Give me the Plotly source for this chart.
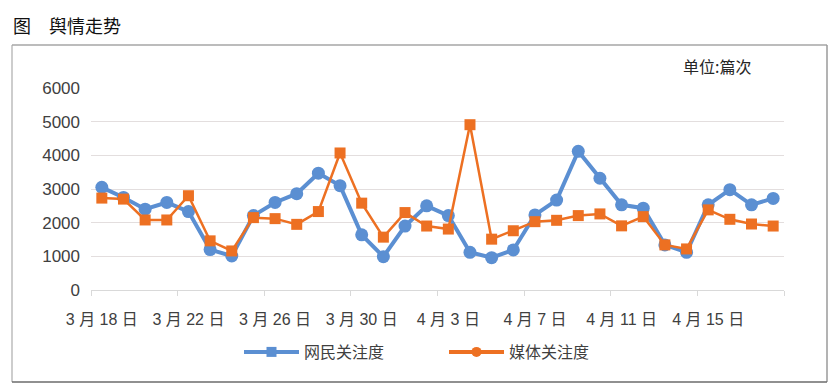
import plotly.graph_objects as go

dates = ["3月18日", "3月19日", "3月20日", "3月21日", "3月22日", "3月23日", "3月24日", "3月25日",
         "3月26日", "3月27日", "3月28日", "3月29日", "3月30日", "3月31日", "4月1日", "4月2日",
         "4月3日", "4月4日", "4月5日", "4月6日", "4月7日", "4月8日", "4月9日", "4月10日",
         "4月11日", "4月12日", "4月13日", "4月14日", "4月15日", "4月16日", "4月17日", "4月18日"]

netizen = [3050, 2750, 2400, 2600, 2330, 1200, 1010, 2210, 2600, 2860, 3470, 3100, 1640, 990, 1900, 2500,
           2210, 1120, 960, 1190, 2230, 2670, 4120, 3320, 2530, 2430, 1340, 1120, 2530, 2980, 2530, 2720]
media = [2730, 2700, 2080, 2080, 2800, 1460, 1160, 2150, 2120, 1950, 2330, 4070, 2580, 1570, 2300, 1900,
         1810, 4910, 1510, 1760, 2030, 2070, 2210, 2260, 1905, 2180, 1340, 1220, 2380, 2100, 1960, 1900]

tick_dates = dates[::4]
tick_text = [d.replace("月", " 月 ").replace("日", " 日") for d in tick_dates]
boundaries = [i - 0.5 for i in range(0, 33, 4)]

BLUE = "#5B8FD2"
ORANGE = "#ED7022"
FONT = "Liberation Sans, Noto Sans CJK SC, sans-serif"
CJK = "Noto Sans CJK SC, sans-serif"

fig = go.Figure()
fig.add_trace(go.Scatter(x=dates, y=netizen, mode="lines+markers", name="网民关注度",
                         line=dict(color=BLUE, width=4), marker=dict(symbol="circle", size=13, color=BLUE),
                         showlegend=False))
fig.add_trace(go.Scatter(x=dates, y=media, mode="lines+markers", name="媒体关注度",
                         line=dict(color=ORANGE, width=2.5), marker=dict(symbol="square", size=11, color=ORANGE),
                         showlegend=False))
# legend entries (as in the reference, markers swapped)
fig.add_trace(go.Scatter(x=[None], y=[None], mode="lines+markers", name="网民关注度",
                         line=dict(color=BLUE, width=4), marker=dict(symbol="square", size=10, color=BLUE)))
fig.add_trace(go.Scatter(x=[None], y=[None], mode="lines+markers", name="媒体关注度",
                         line=dict(color=ORANGE, width=4), marker=dict(symbol="circle", size=10, color=ORANGE)))
# helper trace for the boundary tick axis
fig.add_trace(go.Scatter(x=[None], y=[None], xaxis="x2", showlegend=False, hoverinfo="skip"))

fig.update_layout(
    width=838, height=389,
    margin=dict(l=91, r=54, t=88, b=99, autoexpand=False),
    paper_bgcolor="white", plot_bgcolor="white",
    font=dict(family=FONT, size=16, color="#404040"),
    xaxis=dict(type="category", range=[-0.5, 31.5], tickvals=tick_dates, ticktext=tick_text,
               showgrid=False, zeroline=False, showline=True, linecolor="#d9d9d9", linewidth=1,
               ticks="", tickfont=dict(size=16, color="#404040"), ticklabelstandoff=15, automargin=False),
    xaxis2=dict(overlaying="x", anchor="y", range=[-0.5, 31.5], tickvals=boundaries, ticks="outside",
                ticklen=5, tickcolor="#d9d9d9", showticklabels=False, showgrid=False, zeroline=False,
                showline=False, automargin=False),
    yaxis=dict(range=[0, 6000], tickvals=[0, 1000, 2000, 3000, 4000, 5000, 6000],
               showgrid=True, gridcolor="#e3dede", gridwidth=1, zeroline=False, showline=False,
               tickfont=dict(size=17, color="#404040"), ticklabelstandoff=10, automargin=False),
    legend=dict(orientation="h", xref="container", yref="container", x=239 / 838, y=37 / 389,
                xanchor="left", yanchor="middle", font=dict(size=16, color="#404040", family=CJK),
                itemwidth=55, tracegroupgap=0, entrywidth=135),
    title=dict(text="图　舆情走势", xref="container", yref="container", x=13 / 838, y=1 - 27 / 389,
               xanchor="left", yanchor="middle", font=dict(size=18, color="#111111", family=CJK)),
    annotations=[dict(text="单位:篇次", xref="paper", yref="paper", x=(681 - 91) / 693, y=(290 - 66) / 202,
                      xanchor="left", yanchor="middle", showarrow=False,
                      font=dict(size=16, color="#262626", family=CJK))],
    showlegend=True,
)

L, R = (12 - 91) / 693, (827 - 91) / 693
T, B = (290 - 45) / 202, (290 - 382) / 202
shapes = [
    dict(type="line", xref="paper", yref="paper", x0=L, x1=L, y0=B, y1=T, line=dict(color="#bdbdbd", width=1.5)),
    dict(type="line", xref="paper", yref="paper", x0=L, x1=R, y0=T, y1=T, line=dict(color="#a6a6a6", width=1.5)),
    dict(type="line", xref="paper", yref="paper", x0=R, x1=R, y0=B, y1=T, line=dict(color="#9a9a9a", width=1.5)),
    dict(type="line", xref="paper", yref="paper", x0=L, x1=R, y0=B, y1=B, line=dict(color="#6b6b6b", width=1.5)),
]
fig.update_layout(shapes=shapes)

fig.write_html("out.html", config={"displayModeBar": False},
               post_script="document.body.style.margin='0';")
